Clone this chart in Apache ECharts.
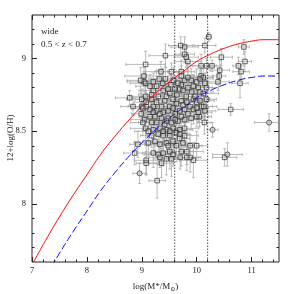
<!DOCTYPE html>
<html><head><meta charset="utf-8">
<script src="https://cdn.jsdelivr.net/npm/echarts@6/dist/echarts.min.js"></script>
<style>html,body{margin:0;padding:0;background:#fff}#c{width:294px;height:294px}</style>
</head><body><div id="c"></div>
<script>
// Axis ranges and ticks
const xMin = 7, xMax = 11.5, yMin = 7.6, yMax = 9.3;
const xMajorTicks = [7, 8, 9, 10, 11];
const xMinorTicks = [7.2,7.4,7.6,7.8,8.2,8.4,8.6,8.8,9.2,9.4,9.6,9.8,10.2,10.4,10.6,10.8,11.2,11.4];
const yMajorTicks = [8, 8.5, 9];
const yMinorTicks = [7.7,7.8,7.9,8.1,8.2,8.3,8.4,8.6,8.7,8.8,8.9,9.1,9.2];
const yTitle = '12+log(O/H)';

// Galaxies (square markers)
const massVals = [
 9.71,9.78,10.15,9.43,9.78,9.81,9.84,10.86,10.45,10.88,
 10.28,10.18,10.08,9.07,10.76,10.81,10.42,9.72,9.54,9.35,
 9.04,9.04,8.98,9.07,10.41,10.39,10.79,10.08,10.12,8.78,
 8.84,9.00,10.62,10.22,10.14,10.15,9.28,8.87,8.93,9.08,
 9.08,10.00,9.94,9.88,9.82,9.70,10.05,10.51,
 9.43,9.32,9.38,9.53,9.58,9.48,9.39,9.27,9.21,9.30,
 9.45,9.64,9.69,9.72,9.78,9.84,9.72,10.00,9.94,10.03,
 9.91,10.06,9.81,9.94,10.00,9.88,10.09,9.72,9.57,9.63,
 9.51,9.42,9.36,9.27,9.18,9.21,9.15,9.08,9.27,9.39,
 9.48,9.57,9.69,9.78,9.94,10.03,9.84,9.72,9.61,9.48,
 9.36,9.24,9.15,9.05,9.18,9.27,9.42,9.54,9.66,9.78,
 9.90,10.00,9.07,9.21,9.33,9.45,9.57,9.69,9.78,9.18,
 9.30,9.39,9.51,9.63,9.69,9.12,9.24,9.33,9.45,9.57,
 9.48,9.88,9.21,9.30,9.39,9.51,9.57,9.72,9.82,9.33,
 9.45,9.36,9.54,9.02,9.00,9.08,9.07,9.18,9.21,9.15,
 8.99,9.02,9.12,9.51,9.60,9.66,9.75,9.84,9.90,10.06,
 10.15,10.18,10.12,10.18,10.13,10.00,10.06,9.97,9.82,9.75,
 9.61,9.45,9.33,9.21,9.51,9.39,9.63,9.75,9.69,9.78
];
const ohVals = [
 9.09,9.08,9.09,9.02,9.03,9.01,8.98,9.08,9.01,8.98,
 8.95,8.95,8.95,8.96,8.95,8.91,8.92,8.91,8.91,8.91,
 8.88,8.84,8.85,8.83,8.88,8.84,8.83,8.88,8.87,8.73,
 8.67,8.67,8.65,9.15,8.56,8.64,8.16,8.35,8.41,8.30,
 8.28,8.40,8.30,8.32,8.32,8.32,8.60,8.32,
 8.86,8.86,8.83,8.82,8.85,8.79,8.78,8.81,8.78,8.74,
 8.74,8.75,8.79,8.82,8.85,8.87,8.88,8.84,8.81,8.80,
 8.77,8.77,8.74,8.72,8.70,8.67,8.67,8.71,8.72,8.69,
 8.67,8.71,8.67,8.70,8.72,8.67,8.65,8.67,8.64,8.63,
 8.64,8.66,8.64,8.65,8.65,8.63,8.62,8.60,8.62,8.59,
 8.59,8.60,8.60,8.58,8.56,8.56,8.55,8.56,8.57,8.58,
 8.59,8.60,8.52,8.51,8.52,8.51,8.52,8.51,8.52,8.47,
 8.48,8.47,8.47,8.49,8.48,8.42,8.43,8.41,8.42,8.43,
 8.40,8.40,8.35,8.34,8.35,8.36,8.34,8.36,8.36,8.32,
 8.31,8.28,8.31,8.66,8.72,8.70,8.74,8.75,8.84,8.81,
 8.62,8.56,8.50,8.76,8.79,8.83,8.78,8.80,8.85,8.86,
 8.83,8.80,8.76,8.72,8.67,8.66,8.71,8.74,8.70,8.68,
 8.58,8.57,8.62,8.63,8.50,8.50,8.40,8.42,8.45,8.47
];
const massErr = [
 .22,.25,.20,.30,.18,.22,.25,.10,.20,.12,
 .08,.25,.20,.36,.10,.15,.18,.25,.30,.28,
 .35,.30,.25,.28,.12,.20,.15,.22,.18,.26,
 .22,.25,.23,.05,.12,.20,.15,.20,.15,.22,
 .18,.20,.25,.20,.22,.25,.22,.22,
 .25,.20,.30,.22,.18,.28,.24,.20,.26,.22,
 .30,.18,.22,.25,.20,.28,.24,.22,.18,.26,
 .20,.24,.22,.30,.18,.25,.20,.22,.28,.24,
 .22,.26,.20,.18,.30,.24,.22,.25,.20,.28,
 .24,.20,.22,.26,.18,.25,.30,.22,.20,.24,
 .28,.22,.20,.25,.24,.18,.22,.26,.20,.30,
 .24,.22,.28,.20,.25,.22,.18,.24,.26,.20,
 .22,.30,.24,.20,.18,.26,.22,.28,.24,.20,
 .25,.22,.20,.26,.24,.28,.18,.22,.30,.20,
 .24,.22,.26,.20,.28,.22,.30,.24,.20,.26,
 .18,.22,.25,.20,.24,.28,.22,.20,.26,.24,
 .20,.22,.28,.18,.24,.22,.26,.20,.25,.22,
 .24,.20,.26,.22,.28,.20,.24,.22,.18,.25
];
const ohErr = [
 .06,.07,.05,.08,.06,.07,.06,.05,.06,.07,
 .04,.05,.08,.09,.06,.05,.07,.08,.06,.07,
 .06,.07,.09,.06,.05,.06,.10,.07,.06,.05,
 .06,.08,.04,.03,.08,.06,.12,.08,.09,.10,
 .08,.10,.12,.10,.09,.08,.07,.06,
 .08,.06,.10,.07,.09,.05,.08,.11,.07,.06,
 .09,.07,.05,.08,.06,.10,.07,.09,.08,.06,
 .07,.10,.06,.08,.09,.05,.07,.08,.06,.10,
 .08,.06,.09,.07,.10,.06,.08,.07,.09,.05,
 .07,.09,.06,.08,.10,.07,.06,.09,.08,.07,
 .10,.08,.07,.06,.09,.08,.11,.07,.06,.09,
 .08,.07,.10,.09,.06,.08,.07,.09,.10,.08,
 .07,.09,.08,.10,.06,.09,.08,.07,.11,.08,
 .09,.08,.10,.07,.09,.12,.08,.10,.09,.07,
 .11,.10,.12,.06,.07,.06,.08,.07,.06,.08,
 .07,.09,.10,.06,.07,.08,.06,.07,.08,.06,
 .07,.06,.08,.09,.07,.08,.06,.07,.08,.09,
 .09,.08,.07,.09,.10,.09,.11,.08,.09,.08
];
// Galaxies (circle markers)
const circMass = [11.32, 8.96, 10.56, 10.29];
const circOH = [8.56, 8.21, 8.34, 8.51];
const circMassErr = [.27, .12, .27, .10];
const circOHErr = [.06, .07, .08, .05];

// Curves
const curveMass = [7,7.25,7.5,7.75,8,8.25,8.5,8.75,9,9.25,9.5,9.75,10,10.25,10.5,10.75,11,11.25,11.5];
const redOH  = [7.58,7.75,7.91,8.06,8.20,8.34,8.46,8.57,8.67,8.76,8.84,8.91,8.98,9.03,9.07,9.10,9.12,9.13,9.13];
const blueOH = [7.33,7.50,7.66,7.81,7.95,8.09,8.21,8.32,8.42,8.51,8.59,8.66,8.73,8.78,8.82,8.85,8.87,8.88,8.88];
const vlineMass = [9.6, 10.2];

const FONT = '"Liberation Serif","DejaVu Serif",serif';
const INK = '#222';

function zip4(a,b,c,d){ return a.map((v,i)=>[v,b[i],c[i],d[i]]); }
const sqData = zip4(massVals, ohVals, massErr, ohErr);
const ciData = zip4(circMass, circOH, circMassErr, circOHErr);

function errRender(params, api){
  const x = api.value(0), y = api.value(1), ex = api.value(2), ey = api.value(3);
  const L = api.coord([x-ex, y]), R = api.coord([x+ex, y]);
  const B = api.coord([x, y-ey]), T = api.coord([x, y+ey]);
  const c = 1.5;
  const st = () => ({stroke:'#a8a8a8', lineWidth:0.8});
  return {type:'group', children:[
    {type:'line', shape:{x1:L[0],y1:L[1],x2:R[0],y2:R[1]}, style:st()},
    {type:'line', shape:{x1:L[0],y1:L[1]-c,x2:L[0],y2:L[1]+c}, style:st()},
    {type:'line', shape:{x1:R[0],y1:R[1]-c,x2:R[0],y2:R[1]+c}, style:st()},
    {type:'line', shape:{x1:B[0],y1:B[1],x2:T[0],y2:T[1]}, style:st()},
    {type:'line', shape:{x1:B[0]-c,y1:B[1],x2:B[0]+c,y2:B[1]}, style:st()},
    {type:'line', shape:{x1:T[0]-c,y1:T[1],x2:T[0]+c,y2:T[1]}, style:st()}
  ]};
}

function xAx(pos, ticks, len, label){
  return {type:'value', min:xMin, max:xMax, position:pos,
    axisLine:{show:false, onZero:false}, splitLine:{show:false},
    axisTick:{show:true, inside:true, length:len, customValues:ticks, lineStyle:{color:INK, width:1}},
    axisLabel:{show:label, customValues:xMajorTicks, margin:4, fontFamily:FONT, fontSize:8.5, color:INK}};
}
function yAx(pos, ticks, len, label){
  return {type:'value', min:yMin, max:yMax, position:pos,
    axisLine:{show:false, onZero:false}, splitLine:{show:false},
    axisTick:{show:true, inside:true, length:len, customValues:ticks, lineStyle:{color:INK, width:1}},
    axisLabel:{show:label, customValues:yMajorTicks, margin:6, fontFamily:FONT, fontSize:8.5, color:INK}};
}

const xAxes = [xAx('bottom', xMajorTicks, 5, true), xAx('bottom', xMinorTicks, 2.5, false),
               xAx('top', xMajorTicks, 5, false), xAx('top', xMinorTicks, 2.5, false)];
xAxes[0].name = 'log(M*/M{s|⊙})';
xAxes[0].nameLocation = 'middle';
xAxes[0].nameGap = 19;
xAxes[0].nameTextStyle = {fontFamily:FONT, fontSize:9, color:INK,
  rich:{s:{fontFamily:FONT, fontSize:6, color:INK, padding:[5,0,0,0]}}};
const yAxes = [yAx('left', yMajorTicks, 5, true), yAx('left', yMinorTicks, 2.5, false),
               yAx('right', yMajorTicks, 5, false), yAx('right', yMinorTicks, 2.5, false)];

const chart = echarts.init(document.getElementById('c'), null, {renderer:'canvas'});
chart.setOption({
  animation:false,
  grid:{left:32, right:15, top:15, bottom:32, outerBoundsMode:'none', containLabel:false,
        show:true, borderColor:INK, borderWidth:1, backgroundColor:'transparent'},
  xAxis: xAxes,
  yAxis: yAxes,
  graphic:[
    {type:'text', left:41, top:27, style:{text:'wide', font:'9px '+FONT, fill:INK}},
    {type:'text', left:41, top:40, style:{text:'0.5 < z < 0.7', font:'9px '+FONT, fill:INK}},
    {type:'text', x:11, y:138, rotation:Math.PI/2,
     style:{text:yTitle, font:'9px '+FONT, fill:INK, align:'center', verticalAlign:'middle'}}
  ],
  series:[
    {type:'custom', renderItem:errRender, data:sqData.concat(ciData), encode:{x:0,y:1}, clip:true, z:1, silent:true},
    {type:'scatter', data:sqData.map(d=>[d[0],d[1]]), symbol:'rect', symbolSize:4.5, z:2, silent:true,
     itemStyle:{color:'rgba(255,255,255,0.25)', borderColor:'#2a2a2a', borderWidth:0.9}},
    {type:'scatter', data:ciData.map(d=>[d[0],d[1]]), symbol:'circle', symbolSize:5, z:2, silent:true,
     itemStyle:{color:'rgba(200,200,200,0.7)', borderColor:'#2a2a2a', borderWidth:0.9}},
    {type:'line', data:curveMass.map((m,i)=>[m, redOH[i]]), smooth:true, showSymbol:false, clip:true, z:3, silent:true,
     lineStyle:{color:'#ff0000', width:1}},
    {type:'line', data:curveMass.map((m,i)=>[m, blueOH[i]]), smooth:true, showSymbol:false, clip:true, z:3, silent:true,
     lineStyle:{color:'#0000ff', width:1, type:[7,3]}},
    {type:'line', data:[[vlineMass[0], yMin],[vlineMass[0], yMax]], showSymbol:false, z:3, silent:true,
     lineStyle:{color:INK, width:0.8, type:[1.5,1.5]}},
    {type:'line', data:[[vlineMass[1], yMin],[vlineMass[1], yMax]], showSymbol:false, z:3, silent:true,
     lineStyle:{color:INK, width:0.8, type:[1.5,1.5]}}
  ]
});
</script></body></html>
